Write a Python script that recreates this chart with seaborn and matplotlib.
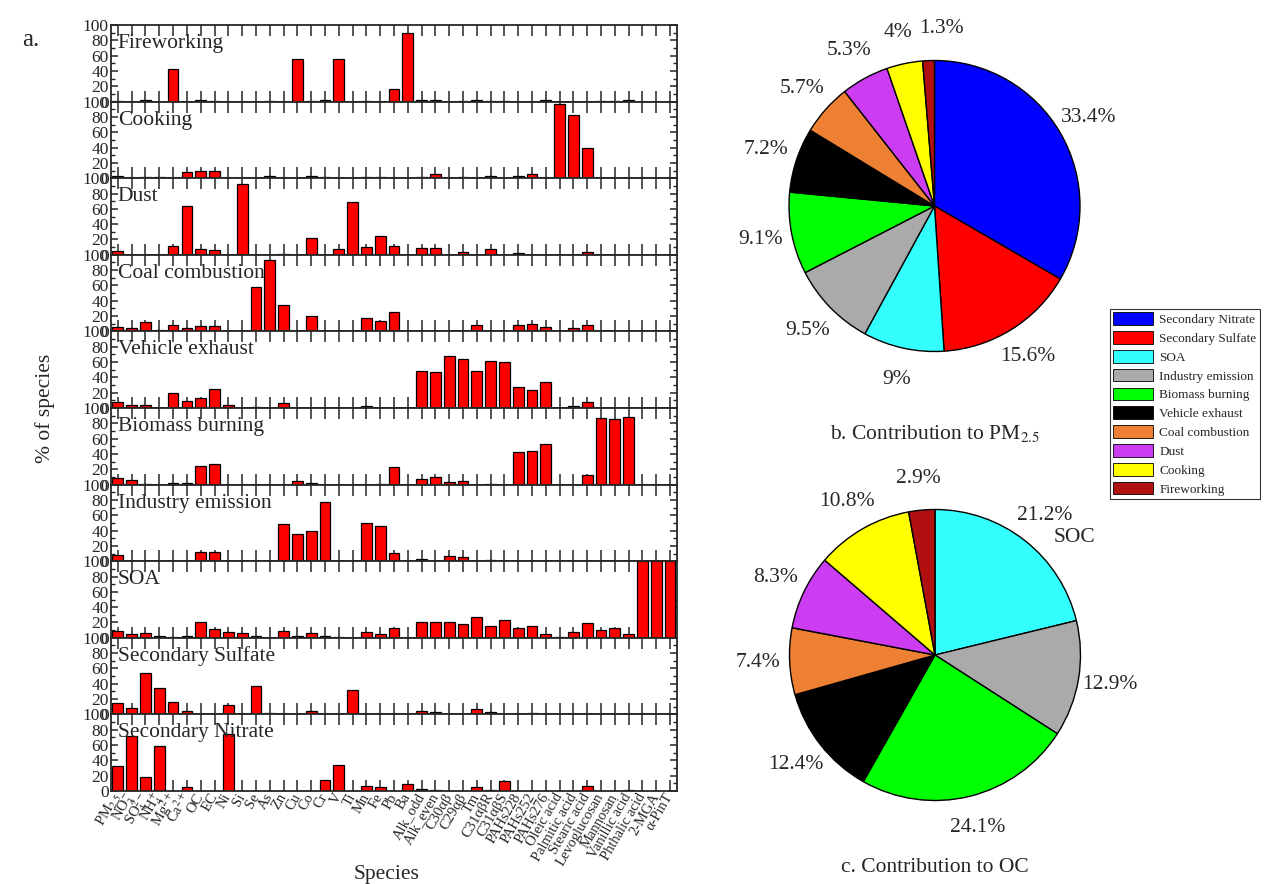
import matplotlib
matplotlib.use("Agg")
import matplotlib.pyplot as plt
import numpy as np
import pandas as pd
import seaborn as sns
from matplotlib.patches import Patch
from matplotlib.ticker import MultipleLocator

# ---------------------------------------------------------------- data
species = ["PM$_{2.5}$", "NO$_3^{-}$", "SO$_4^{2-}$", "NH$_4^{+}$", "Mg$^{2+}$", "Ca$^{2+}$",
           "OC", "EC", "Ni", "Si", "Se", "As", "Zn", "Cu", "Co", "Cr", "V", "Ti", "Mn",
           "Fe", "Pb", "Ba", "Alk_odd", "Alk_even", "C30αβ", "C29αβ", "Tm", "C31αβR",
           "C31αβS", "PAHs228", "PAHs252", "PAHs276", "Oleic acid", "Palmitic acid",
           "Stearic acid", "Levoglucosan", "Mannosan", "Vanillic acid", "Phthalic acid",
           "2-MGA", "α-PinT"]

#                 PM   NO3  SO4  NH4  Mg   Ca   OC   EC   Ni   Si   Se   As   Zn   Cu   Co   Cr   V    Ti   Mn   Fe   Pb   Ba   Aod  Aev  C30  C29  Tm   31R  31S  P228 P252 P276 Ole  Pal  Ste  Lev  Man  Van  Pht  MGA  Pin
fireworking    = [1.0, 0.0, 2.0, 0.0, 42., 0.0, 2.5, 0.5, 0.0, 0.0, 0.0, 1.0, 0.0, 55.5, 1.0, 2.5, 56., 0.0, 1.0, 0.0, 16., 89., 1.5, 2.0, 0.0, 0.3, 1.5, 0.8, 0.8, 0.0, 0.0, 2.5, 0.0, 0.0, 0.0, 1.0, 1.0, 2.5, 0.0, 0.0, 0.0]
cooking        = [3.0, 0.0, 1.0, 1.0, 0.0, 8.0, 10., 10., 0.0, 0.0, 0.0, 2.5, 0.0, 0.0, 3.0, 1.5, 0.0, 0.0, 1.0, 2.0, 0.0, 0.0, 1.0, 5.0, 0.0, 1.0, 0.0, 2.5, 0.5, 3.0, 5.0, 0.0, 97., 83., 39., 0.0, 0.0, 0.5, 0.0, 0.0, 0.0]
dust           = [5.0, 0.0, 0.0, 0.0, 11., 63.5, 8.0, 6.5, 0.0, 92.5, 0.0, 0.0, 1.0, 0.0, 21.5, 0.0, 7.0, 68.5, 10.5, 25., 11.5, 0.0, 9.5, 9.5, 0.0, 4.0, 0.0, 8.0, 0.0, 2.5, 0.0, 0.0, 0.0, 0.0, 4.0, 0.0, 0.0, 0.0, 0.0, 0.0, 0.0]
coal           = [5.5, 4.5, 12.5, 1.5, 8.5, 4.5, 7.5, 6.5, 0.0, 0.0, 58., 93.5, 34., 0.0, 20., 0.0, 0.0, 0.0, 18., 13., 25., 0.0, 0.5, 0.0, 0.0, 0.0, 8.5, 0.5, 0.0, 9.0, 10., 5.5, 0.0, 4.5, 8.0, 0.0, 0.0, 0.0, 0.0, 0.0, 0.0]
vehicle        = [7.5, 3.5, 3.5, 0.0, 19., 8.5, 13., 25., 3.5, 0.0, 1.3, 0.0, 6.0, 0.0, 0.0, 0.0, 0.0, 0.0, 2.0, 0.0, 0.0, 0.0, 48., 46.5, 67.5, 64.5, 48.5, 62., 59.5, 27., 23.5, 33.5, 0.0, 2.0, 7.5, 0.0, 0.0, 0.0, 0.0, 0.0, 0.0]
biomass        = [8.5, 6.0, 0.8, 0.0, 1.7, 1.7, 24., 27., 0.0, 0.0, 0.0, 0.0, 0.0, 5.0, 2.0, 0.0, 0.0, 0.0, 0.0, 1.3, 23.5, 0.0, 7.0, 10., 3.5, 5.0, 0.0, 0.8, 0.0, 43., 44., 52.5, 0.0, 0.0, 12.5, 86.5, 85., 88., 0.0, 0.0, 0.0]
industry       = [8.5, 0.0, 0.0, 0.0, 0.0, 0.8, 12.5, 11.5, 0.0, 0.0, 0.0, 0.0, 48., 35.5, 40., 77.5, 0.8, 0.0, 50., 46.5, 10.5, 0.0, 2.5, 0.0, 6.5, 5.0, 0.0, 2.2, 0.0, 0.0, 0.0, 0.0, 0.5, 0.0, 0.5, 0.0, 0.0, 0.0, 0.0, 0.0, 0.0]
soa            = [8.5, 5.0, 6.5, 2.5, 0.5, 2.5, 20.5, 11.5, 7.5, 6.5, 2.5, 0.0, 9.0, 2.2, 6.0, 2.2, 1.3, 0.0, 8.0, 5.0, 12.5, 0.0, 20.5, 20.5, 20.5, 18.5, 27., 15., 23., 13., 15.5, 5.0, 1.3, 7.5, 19., 10., 13., 4.5, 100., 100., 100.]
sec_sulfate    = [15.5, 8.0, 54., 34.5, 16., 4.0, 0.0, 0.0, 12.5, 0.0, 37.5, 1.3, 0.0, 0.0, 5.0, 0.0, 0.0, 31.5, 0.0, 0.0, 0.0, 0.0, 4.0, 3.0, 0.0, 0.0, 7.0, 3.5, 0.5, 0.5, 1.3, 0.0, 0.0, 0.5, 0.0, 0.0, 0.0, 0.5, 0.0, 0.0, 0.0]
sec_nitrate    = [33., 72., 18., 59., 0.0, 5.0, 0.0, 0.0, 75., 0.0, 0.0, 0.0, 0.0, 0.0, 0.0, 14., 34., 0.0, 6.5, 5.0, 0.0, 9.0, 2.0, 1.5, 0.0, 0.0, 5.0, 1.5, 13., 0.0, 0.0, 0.0, 0.0, 0.0, 6.0, 0.0, 0.0, 1.0, 0.0, 0.0, 0.0]

profile_names = ["Fireworking", "Cooking", "Dust", "Coal combustion", "Vehicle exhaust",
                 "Biomass burning", "Industry emission", "SOA", "Secondary Sulfate",
                 "Secondary Nitrate"]
profiles = [fireworking, cooking, dust, coal, vehicle, biomass, industry, soa,
            sec_sulfate, sec_nitrate]

# source contributions
legend_sources = ["Secondary Nitrate", "Secondary Sulfate", "SOA", "Industry emission",
                  "Biomass burning", "Vehicle exhaust", "Coal combustion", "Dust",
                  "Cooking", "Fireworking"]
source_colors = ["#0000FF", "#FF0000", "#33FFFF", "#AAAAAA", "#00FF00", "#000000",
                 "#EE8033", "#CC3CF0", "#FFFF00", "#B01010"]

pm_share = [33.4, 15.6, 9, 9.5, 9.1, 7.2, 5.7, 5.3, 4, 1.3]
pm_sources = legend_sources

oc_share = [21.2, 12.9, 24.1, 12.4, 7.4, 8.3, 10.8, 2.9]
oc_sources = ["SOA", "Industry emission", "Biomass burning", "Vehicle exhaust",
              "Coal combustion", "Dust", "Cooking", "Fireworking"]

# ---------------------------------------------------------------- style
sns.set_style("ticks")
plt.rcParams["font.family"] = ["Liberation Serif", "DejaVu Serif"]
plt.rcParams["mathtext.fontset"] = "stix"
plt.rcParams["axes.linewidth"] = 1.3

color_of = dict(zip(legend_sources, source_colors))

fig = plt.figure(figsize=(12.64, 8.84), dpi=100)

# ---------------------------------------------------------------- profiles
left, width = 0.0878, 0.4478
top, bottom = 0.9717, 0.1052
h = (top - bottom) / len(profiles)
n = len(species)

for k, (name, vals) in enumerate(zip(profile_names, profiles)):
    ax = fig.add_axes([left, top - (k + 1) * h, width, h])
    df = pd.DataFrame({"species": species, "value": vals})
    sns.barplot(data=df, x="species", y="value", order=species, ax=ax,
                color="#FF0000", saturation=1, edgecolor="black", linewidth=0.9,
                width=0.78)
    ax.set_xlim(-0.5, n - 0.5)
    ax.set_ylim(0, 100)
    ax.set_xlabel("")
    ax.set_ylabel("")
    ax.set_axisbelow(True)
    ax.yaxis.set_major_locator(MultipleLocator(20))
    ax.yaxis.set_minor_locator(MultipleLocator(10))
    ax.set_yticks(np.arange(0, 101, 20))
    ax.set_yticklabels([f"{v}" for v in range(0, 101, 20)], fontsize=12.5)
    ax.tick_params(axis="y", which="major", direction="in", length=5, width=1.1,
                   left=True, right=True, pad=1.5)
    ax.tick_params(axis="y", which="minor", direction="in", length=3, width=1.0,
                   left=True, right=True)
    ax.tick_params(axis="x", which="major", direction="in", length=8, width=1.1,
                   top=True, bottom=True, pad=2.5)
    ax.text(0.012, 0.70, name, transform=ax.transAxes, fontsize=15.5,
            va="baseline", ha="left")
    for s in ax.spines.values():
        s.set_visible(True)
        s.set_linewidth(1.3)
    if k < len(profiles) - 1:
        ax.tick_params(axis="x", labelbottom=False)
    else:
        ax.set_xticks(range(n))
        ax.set_xticklabels(species, rotation=60, ha="right", va="center",
                           rotation_mode="anchor", fontsize=10.5)

fig.text(0.036, 0.5385, "% of species", rotation=90, ha="center", va="center",
         fontsize=15.5)
fig.text(0.306, 0.011, "Species", ha="center", va="center", fontsize=15.5)
fig.text(0.024, 0.955, "a.", ha="center", va="center", fontsize=18)


# ---------------------------------------------------------------- pies
def value_labels(values):
    it = iter(values)
    return lambda pct: f"{next(it):g}%"


def draw_pie(rect, shares, names):
    ax = fig.add_axes(rect)
    _, _, labels = ax.pie(shares, colors=[color_of[s] for s in names], startangle=90,
                          counterclock=False, autopct=value_labels(shares),
                          pctdistance=1.22,
                          wedgeprops=dict(edgecolor="black", linewidth=1.0),
                          textprops=dict(fontsize=15.5))
    # very thin slices: push the label sideways so it clears its neighbour
    for share, txt in zip(shares, labels):
        if share < 2:
            x, y = txt.get_position()
            txt.set_position((x + 0.1, y))
    ax.set_xlim(-1.4, 1.4)
    ax.set_ylim(-1.4, 1.4)
    ax.set_aspect("equal")
    ax.axis("off")
    return ax


pie_w, pie_h = 407.4 / 1264, 407.4 / 884
ax_b = draw_pie([(934.5 - 203.7) / 1264, 1 - (206 + 203.7) / 884, pie_w, pie_h],
                pm_share, pm_sources)
ax_c = draw_pie([(935 - 203.7) / 1264, 1 - (655 + 203.7) / 884, pie_w, pie_h],
                oc_share, oc_sources)
ax_c.text(0.96, 0.81, "SOC", ha="center", va="center", fontsize=15.5)

fig.text(935 / 1264, 1 - 433 / 884, "b. Contribution to PM$_{2.5}$", ha="center",
         va="center", fontsize=15.5)
fig.text(935 / 1264, 1 - 868 / 884, "c. Contribution to OC", ha="center",
         va="center", fontsize=15.5)

handles = [Patch(facecolor=c, edgecolor="black", linewidth=0.6, label=s)
           for s, c in zip(legend_sources, source_colors)]
leg = fig.legend(handles=handles, loc="upper left",
                 bbox_to_anchor=(1110 / 1264, 1 - 309 / 884), frameon=True,
                 fancybox=False, edgecolor="black", fontsize=9.5, handlelength=3.0,
                 handleheight=1.1, labelspacing=0.38, handletextpad=0.5,
                 borderpad=0.25, borderaxespad=0)
leg.get_frame().set_linewidth(0.8)

fig.savefig("out.png", dpi=100)
